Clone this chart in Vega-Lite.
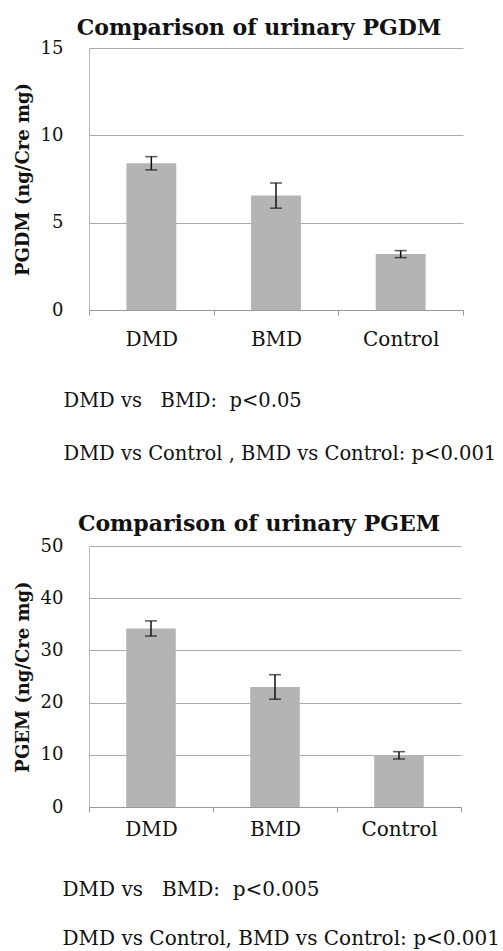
{
  "$schema": "https://vega.github.io/schema/vega-lite/v6.json",
  "background": "white",
  "padding": {"left": 14, "top": 17, "right": 5, "bottom": 5},
  "config": {
    "font": "DejaVu Serif",
    "view": {"stroke": null},
    "title": {"font": "DejaVu Serif", "fontWeight": "bold", "fontSize": 22, "color": "#111"},
    "axis": {"labelFont": "DejaVu Serif", "titleFont": "DejaVu Serif", "labelColor": "#111", "titleColor": "#111"}
  },
  "spacing": 50,
  "vconcat": [
    {
      "title": {"text": "Comparison of urinary PGDM", "anchor": "middle", "dx": -17, "offset": -1},
      "width": 374,
      "height": 262,
      "data": {"values": [
        {"group": "DMD", "value": 8.4, "err": 0.38},
        {"group": "BMD", "value": 6.55, "err": 0.72},
        {"group": "Control", "value": 3.2, "err": 0.2}
      ]},
      "encoding": {
        "x": {"field": "group", "type": "nominal", "sort": null,
          "scale": {"paddingInner": 0, "paddingOuter": 0},
          "axis": {"labelAngle": 0, "labelFontSize": 20, "labelPadding": 14, "tickBand": "extent", "tickSize": 5, "tickColor": "#999", "domainColor": "#999", "grid": false,
            "title": ["DMD vs\u00a0\u00a0\u00a0BMD:\u00a0\u00a0p<0.05", "DMD vs Control , BMD vs Control:\u00a0p<0.001"],
            "titleFont": "DejaVu Serif", "titleFontWeight": "normal", "titleFontSize": 19.5, "titleAlign": "left", "titleBaseline": "top", "titleX": -26, "titleY": 81, "titleLineHeight": 53}},
        "y": {"field": "value", "type": "quantitative", "scale": {"domain": [0, 15]},
          "axis": {"values": [0, 5, 10, 15], "labelFontSize": 18, "ticks": false, "labelPadding": 26, "gridColor": "#aaa", "domainColor": "#bbb",
            "title": "PGDM (ng/Cre mg)", "titleFontSize": 18, "titleFontWeight": "bold", "titlePadding": 8}}
      },
      "layer": [
        {
          "mark": {"type": "bar", "color": "#b4b4b4", "width": {"band": 0.4}}
        },
        {
          "mark": {"type": "errorbar", "color": "#111", "thickness": 1.5, "ticks": {"size": 12, "thickness": 1.5}},
          "encoding": {
            "yError": {"field": "err"}
          }
        }
      ]
    },
    {
      "title": {"text": "Comparison of urinary PGEM", "anchor": "middle", "dx": -16, "offset": 1},
      "width": 372,
      "height": 261,
      "data": {"values": [
        {"group": "DMD", "value": 34.2, "err": 1.45},
        {"group": "BMD", "value": 23.0, "err": 2.35},
        {"group": "Control", "value": 9.9, "err": 0.7}
      ]},
      "encoding": {
        "x": {"field": "group", "type": "nominal", "sort": null,
          "scale": {"paddingInner": 0, "paddingOuter": 0},
          "axis": {"labelAngle": 0, "labelFontSize": 20, "labelPadding": 7, "tickBand": "extent", "tickSize": 5, "tickColor": "#999", "domainColor": "#999", "grid": false,
            "title": ["DMD vs\u00a0\u00a0\u00a0BMD:\u00a0\u00a0p<0.005", "DMD vs Control, BMD vs Control:\u00a0p<0.001"],
            "titleFont": "DejaVu Serif", "titleFontWeight": "normal", "titleFontSize": 20, "titleAlign": "left", "titleBaseline": "top", "titleX": -27, "titleY": 72, "titleLineHeight": 49}},
        "y": {"field": "value", "type": "quantitative", "scale": {"domain": [0, 50]},
          "axis": {"values": [0, 10, 20, 30, 40, 50], "labelFontSize": 18, "ticks": false, "labelPadding": 26, "gridColor": "#aaa", "domainColor": "#bbb",
            "title": "PGEM (ng/Cre mg)", "titleFontSize": 18, "titleFontWeight": "bold", "titlePadding": 8}}
      },
      "layer": [
        {
          "mark": {"type": "bar", "color": "#b4b4b4", "width": {"band": 0.4}}
        },
        {
          "mark": {"type": "errorbar", "color": "#111", "thickness": 1.5, "ticks": {"size": 12, "thickness": 1.5}},
          "encoding": {
            "yError": {"field": "err"}
          }
        }
      ]
    }
  ]
}
